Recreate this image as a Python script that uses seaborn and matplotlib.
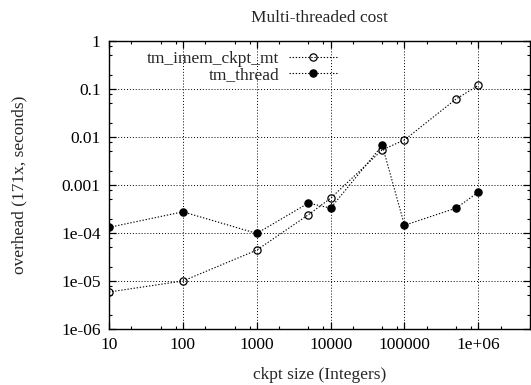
import matplotlib
matplotlib.use("Agg")
import matplotlib.pyplot as plt
import matplotlib.ticker as mticker
import seaborn as sns
import pandas as pd

# ---- data ----
ckpt_sizes = [10, 100, 1000, 5000, 10000, 50000, 100000, 500000, 1000000]
tm_imem_ckpt_mt = [5.9e-6, 1.0e-5, 4.4e-5, 2.4e-4, 5.3e-4, 5.4e-3, 8.7e-3, 6.2e-2, 1.19e-1]
tm_thread = [1.31e-4, 2.76e-4, 0.98e-4, 4.2e-4, 3.3e-4, 6.7e-3, 1.45e-4, 3.3e-4, 7.1e-4]
series_names = ["tm_imem_ckpt_mt", "tm_thread"]

title_text = "Multi-threaded cost"
xlabel_text = "ckpt size (Integers)"
ylabel_text = "overhead (171x, seconds)"

sns.set_style("ticks")
plt.rcParams["font.family"] = ["Liberation Serif", "DejaVu Serif"]
plt.rcParams["font.size"] = 12.5

fig = plt.figure(figsize=(5.31, 3.85), dpi=100)
ax = fig.add_axes([109 / 531, 1 - 329 / 385, (530 - 109) / 531, (329 - 41) / 385])

df_a = pd.DataFrame({"size": ckpt_sizes, "val": tm_imem_ckpt_mt})
df_b = pd.DataFrame({"size": ckpt_sizes, "val": tm_thread})

ls = (0, (1.2, 1.6))
sns.lineplot(data=df_a, x="size", y="val", ax=ax, color="black", linewidth=0.8,
             linestyle=ls, marker="o", markersize=5.2, markerfacecolor="none",
             markeredgecolor="black", markeredgewidth=0.9, label=series_names[0],
             legend=False)
sns.lineplot(data=df_b, x="size", y="val", ax=ax, color="black", linewidth=0.8,
             linestyle=ls, marker="o", markersize=5.2, markerfacecolor="black",
             markeredgecolor="black", markeredgewidth=0.9, label=series_names[1],
             legend=False)

ax.set_xscale("log")
ax.set_yscale("log")
ax.set_xlim(10, 5e6)
ax.set_ylim(1e-6, 1)

ax.xaxis.set_major_locator(mticker.FixedLocator([10, 100, 1000, 1e4, 1e5, 1e6]))
ax.xaxis.set_minor_locator(mticker.LogLocator(base=10, subs=[2, 5, 8], numticks=20))
ax.yaxis.set_major_locator(mticker.LogLocator(base=10, numticks=20))
ax.yaxis.set_minor_locator(mticker.LogLocator(base=10, subs=[2, 5, 8], numticks=20))


def yfmt(v, pos):
    if v >= 1e-3:
        return f"{v:g}"
    return f"{v:.0e}"


ax.xaxis.set_major_formatter(mticker.FuncFormatter(lambda v, p: f"{v:g}"))
ax.xaxis.set_minor_formatter(mticker.NullFormatter())
ax.yaxis.set_major_formatter(mticker.FuncFormatter(yfmt))
ax.yaxis.set_minor_formatter(mticker.NullFormatter())

ax.tick_params(which="both", direction="in", top=True, right=True, colors="black",
               labelsize=12.5)
ax.tick_params(which="major", length=4.8, width=0.9, pad=6)
ax.tick_params(which="minor", length=2.4, width=0.8)

ax.grid(True, which="major", color="black", linestyle=(0, (1, 2)), linewidth=0.7)
for s in ax.spines.values():
    s.set_color("black")
    s.set_linewidth(1.0)

ax.set_xlabel(xlabel_text, fontsize=12.5, labelpad=10)
ax.set_ylabel(ylabel_text, fontsize=12.5, labelpad=24)
ax.set_title(title_text, fontsize=12.5, pad=14)

handles, labels = ax.get_legend_handles_labels()
ax.legend(handles, labels, loc="upper right", frameon=False, markerfirst=False,
          bbox_to_anchor=(338.3 / 531, 1 - 50.5 / 385), bbox_transform=fig.transFigure,
          borderaxespad=0, borderpad=0, handlelength=2.86, handletextpad=0.53,
          labelspacing=0.0, fontsize=12.5)

fig.savefig("out.png", dpi=100)
